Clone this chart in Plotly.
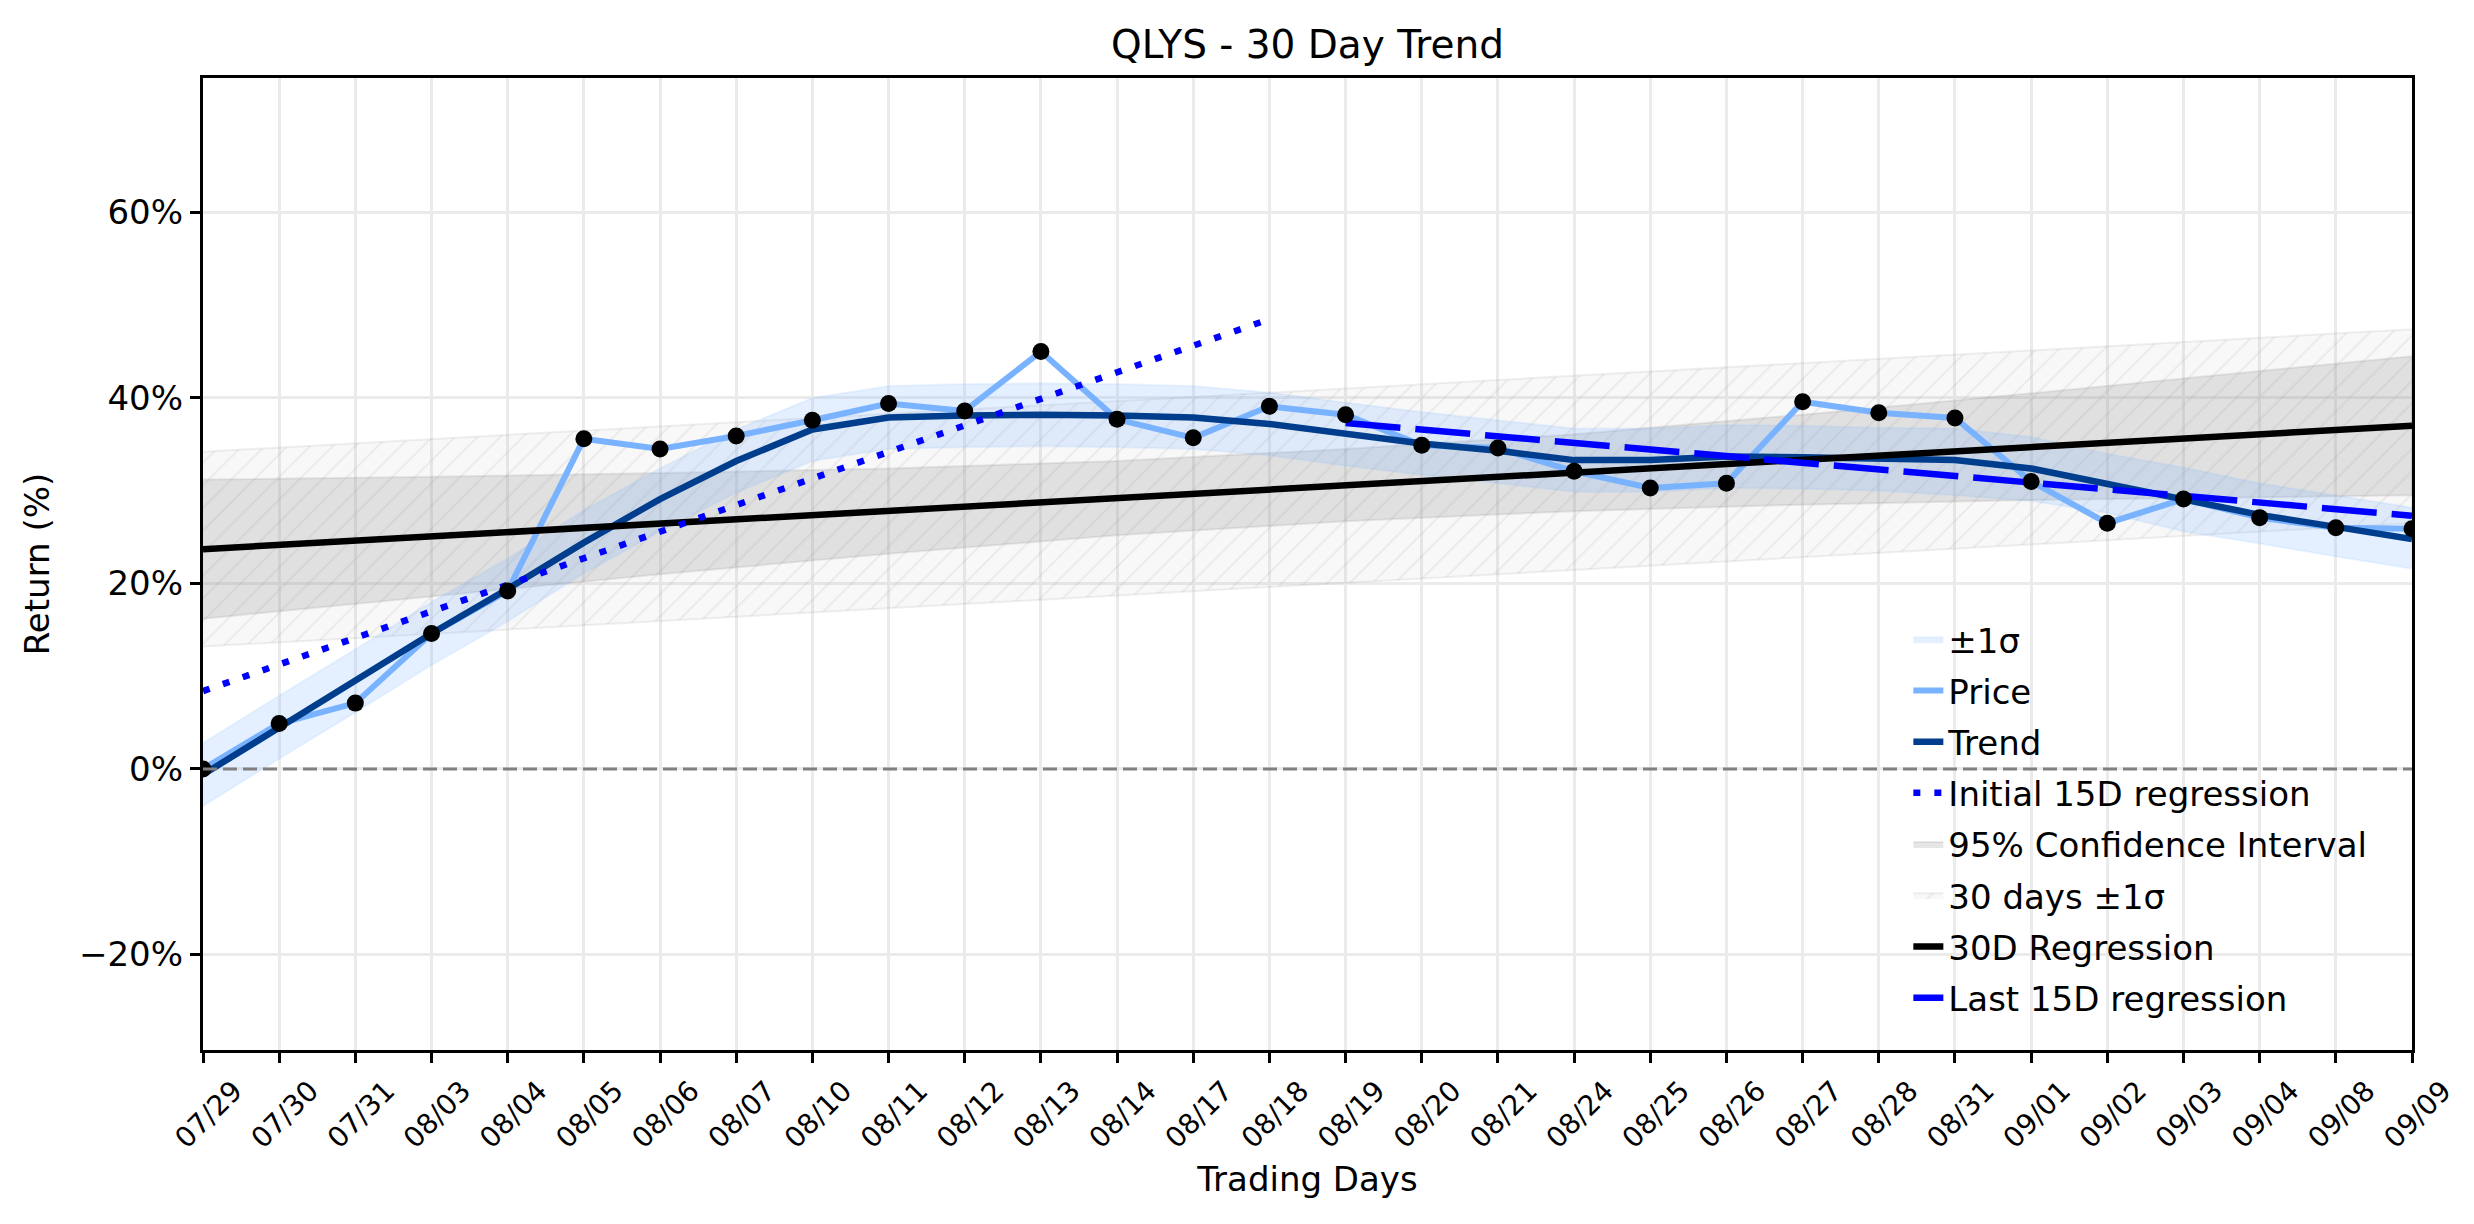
import plotly.graph_objs as go

# trading days on the x axis
days = ['07/29', '07/30', '07/31', '08/03', '08/04', '08/05', '08/06', '08/07', '08/10', '08/11',
        '08/12', '08/13', '08/14', '08/17', '08/18', '08/19', '08/20', '08/21', '08/24', '08/25',
        '08/26', '08/27', '08/28', '08/31', '09/01', '09/02', '09/03', '09/04', '09/08', '09/09']
idx = list(range(len(days)))

# cumulative return (%)
price = [0.0, 4.9, 7.1, 14.6, 19.2, 35.6, 34.5, 35.9, 37.6, 39.4,
         38.6, 45.0, 37.7, 35.7, 39.1, 38.2, 34.9, 34.6, 32.1, 30.3,
         30.8, 39.6, 38.4, 37.85, 31.0, 26.5, 29.1, 27.1, 26.0, 25.9]
trend = [-0.6, 4.5, 9.6, 14.6, 19.4, 24.4, 29.1, 33.2, 36.6, 37.9,
         38.1, 38.2, 38.1, 37.9, 37.2, 36.1, 35.1, 34.3, 33.3, 33.3,
         33.7, 33.6, 33.4, 33.3, 32.4, 30.7, 29.1, 27.4, 26.1, 24.8]
sigma_hi = [2.8, 7.9, 12.9, 18.0, 22.7, 27.9, 32.4, 36.6, 40.0, 41.3,
            41.5, 41.6, 41.5, 41.3, 40.6, 39.5, 38.5, 37.6, 36.7, 36.7,
            37.1, 37.0, 36.8, 36.7, 35.8, 34.0, 32.5, 30.8, 29.5, 28.2]
sigma_lo = [-4.0, 1.1, 6.1, 11.2, 15.9, 21.1, 25.6, 29.8, 33.2, 34.5,
            34.7, 34.8, 34.7, 34.5, 33.8, 32.7, 31.7, 30.8, 29.9, 29.9,
            30.3, 30.2, 30.0, 29.5, 28.9, 27.6, 25.6, 24.3, 22.9, 21.6]

# 30 day regression, its 95% CI and +-1 sigma channel
reg_x = [0, 29]
reg_y = [23.7, 37.0]
ci_x = [0, 3, 6, 9, 12, 15, 18, 21, 24, 27, 29]
ci_hi = [31.2, 31.5, 31.9, 32.4, 33.2, 34.5, 36.1, 38.2, 40.5, 42.9, 44.5]
ci_lo = [16.2, 18.6, 21.0, 23.2, 25.2, 26.7, 27.8, 28.5, 29.0, 29.3, 29.5]
chan_hi = [34.2, 47.4]
chan_lo = [13.2, 26.5]

# 15 day regressions
init_x = [0, 14]
init_y = [8.4, 48.5]
last_x = [15, 29]
last_y = [37.3, 27.3]

y_ticks = [-20, 0, 20, 40, 60]
y_labels = ['−20%', '0%', '20%', '40%', '60%']

font = 'DejaVu Sans'


def band(x, hi, lo):
    return list(x) + list(x)[::-1], list(hi) + list(lo)[::-1]


chan_px, chan_py = band(reg_x, chan_hi, chan_lo)
ci_px, ci_py = band(ci_x, ci_hi, ci_lo)
sig_px, sig_py = band(idx, sigma_hi, sigma_lo)

data = [
    go.Scatter(x=chan_px, y=chan_py, fill='toself', mode='lines', name='30 days ±1σ',
               line=dict(color='rgba(128,128,128,0.12)', width=2),
               fillcolor='rgba(128,128,128,0.06)',
               fillpattern=dict(shape='/', size=16, solidity=0.12,
                                fgcolor='rgba(128,128,128,0.22)', bgcolor='rgba(128,128,128,0.06)'),
               legendgroup='g6', legendrank=6),
    go.Scatter(x=ci_px, y=ci_py, fill='toself', mode='lines', name='95% Confidence Interval',
               line=dict(color='rgba(128,128,128,0.15)', width=2),
               fillcolor='rgba(128,128,128,0.2)', legendgroup='g5', legendrank=5),
    go.Scatter(x=sig_px, y=sig_py, fill='toself', mode='lines', name='±1σ',
               line=dict(color='rgba(120,180,255,0.12)', width=2),
               fillcolor='rgba(120,180,255,0.2)', legendgroup='g1', legendrank=1),
    go.Scatter(x=idx, y=price, mode='lines', name='Price',
               line=dict(color='#79b3ff', width=6), legendgroup='g2', legendrank=2),
    go.Scatter(x=idx, y=trend, mode='lines', name='Trend',
               line=dict(color='#003d8c', width=6.5), legendgroup='g3', legendrank=3),
    go.Scatter(x=reg_x, y=reg_y, mode='lines', name='30D Regression',
               line=dict(color='black', width=6.5), legendgroup='g7', legendrank=7),
    go.Scatter(x=init_x, y=init_y, mode='lines', name='Initial 15D regression',
               line=dict(color='blue', width=6.5, dash='7px,14px'), legendgroup='g4', legendrank=4),
    go.Scatter(x=last_x, y=last_y, mode='lines', name='Last 15D regression',
               line=dict(color='blue', width=6.5, dash='55px,15px'), legendgroup='g8', legendrank=8),
    go.Scatter(x=idx, y=price, mode='markers', showlegend=False,
               marker=dict(color='black', size=17)),
]

layout = go.Layout(
    width=2474, height=1224, autosize=False,
    margin=dict(l=203, r=62, t=78, b=174),
    paper_bgcolor='white', plot_bgcolor='white',
    font=dict(family=font, size=34, color='black'),
    title=dict(text='QLYS - 30 Day Trend', x=0.5, xref='paper', xanchor='center',
               y=1 - 44 / 1224, yref='container', yanchor='middle',
               font=dict(family=font, size=39, color='black')),
    xaxis=dict(range=[0, 29], tickvals=idx, ticktext=days, tickangle=-45,
               tickfont=dict(family=font, size=28), ticklabelshift=31,
               ticks='outside', ticklen=10, tickwidth=3, tickcolor='black',
               showline=True, linecolor='black', linewidth=3.3, mirror=True,
               showgrid=True, gridcolor='#ebebeb', gridwidth=3, zeroline=False,
               title=dict(text='Trading Days', font=dict(family=font, size=34), standoff=14)),
    yaxis=dict(range=[-30.3, 74.5], tickvals=y_ticks, ticktext=y_labels,
               tickfont=dict(family=font, size=34),
               ticks='outside', ticklen=10, tickwidth=3, tickcolor='black',
               showline=True, linecolor='black', linewidth=3.3, mirror=True,
               showgrid=True, gridcolor='#ebebeb', gridwidth=3, zeroline=False,
               title=dict(text='Return (%)', font=dict(family=font, size=34), standoff=20)),
    legend=dict(x=0.772, y=0.452, xanchor='left', yanchor='top', bgcolor='rgba(0,0,0,0)',
                borderwidth=0, traceorder='grouped', tracegroupgap=4,
                font=dict(family=font, size=34)),
    hovermode='closest',
)

fig = go.Figure(data=data, layout=layout)
fig.add_hline(y=0, line=dict(color='#808080', width=3, dash='14px,6px'), layer='above')
fig.write_html('out.html', config={'displayModeBar': False},
               post_script="document.body.style.margin='0';")
